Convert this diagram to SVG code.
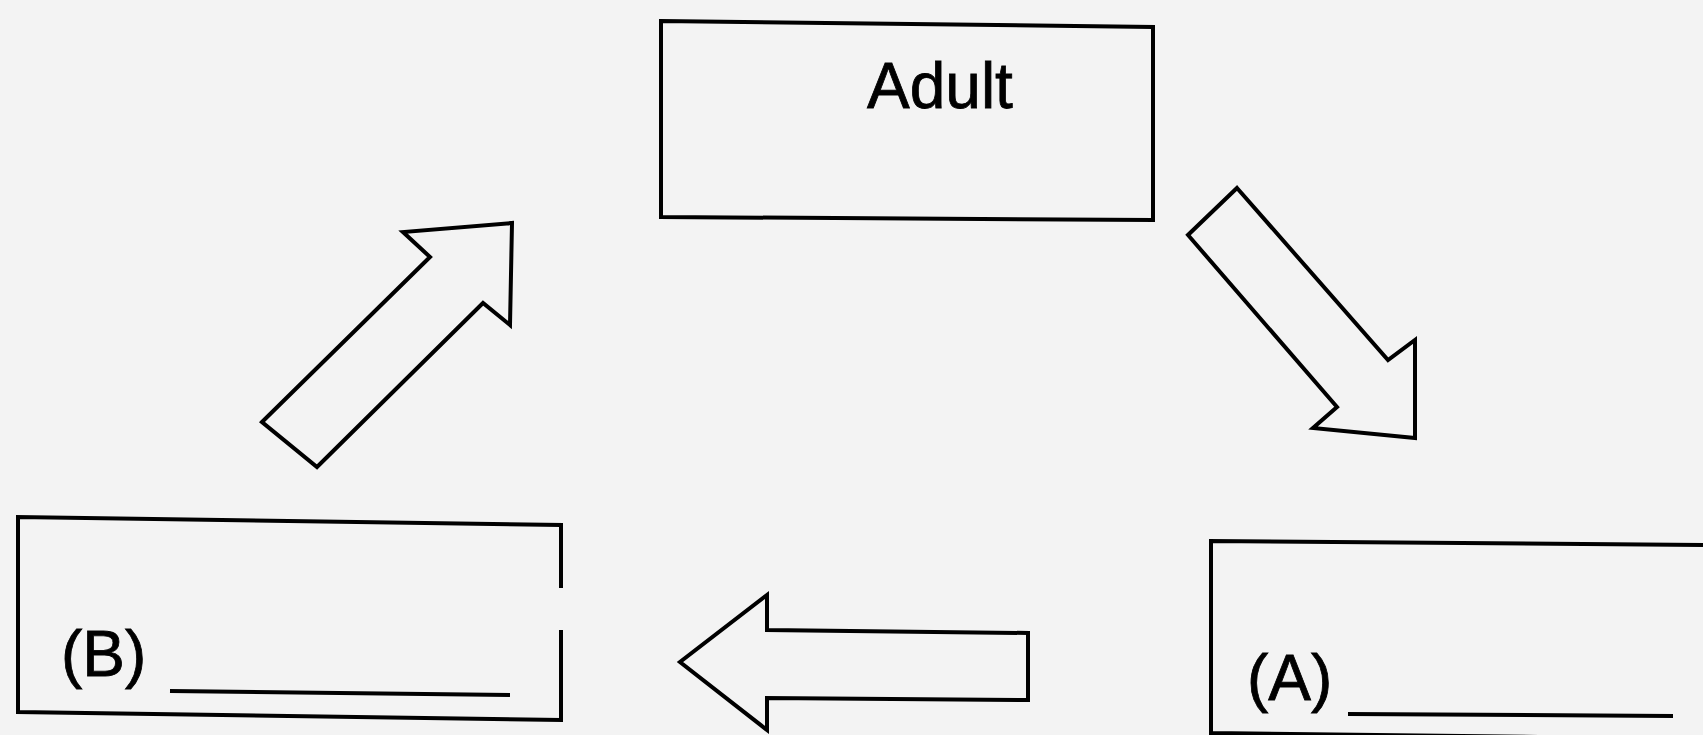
<svg xmlns="http://www.w3.org/2000/svg" width="1703" height="735" viewBox="0 0 1703 735">
<style>
.bg{fill:#f3f3f3}
.box{fill:none;stroke:#000;stroke-width:4;stroke-linejoin:miter}
.arrow{fill:none;stroke:#000;stroke-width:4;stroke-linejoin:miter}
.line{stroke:#000;stroke-width:4}
.lbl{font-family:"Liberation Sans",Arial,sans-serif;font-size:64px;fill:#000;stroke:#000;stroke-width:0.8}
</style>
<rect class="bg" x="0" y="0" width="1703" height="735"/>
<g id="node-adult">
<path class="box" d="M661,21 L1153,27 L1153,220 L661,217 Z"/>
<text class="lbl" x="867" y="108">Adult</text>
</g>
<g id="node-a">
<path class="box" d="M1703,545 L1211,541 L1211,733 L1703,739"/>
<text class="lbl" x="1247" y="700">(A)</text>
<line class="line" x1="1348" y1="714" x2="1673" y2="716"/>
</g>
<g id="node-b">
<path class="box" d="M561,588 L561,525 L18,517 L18,712 L561,720 L561,630"/>
<text class="lbl" x="61" y="676">(B)</text>
<line class="line" x1="170" y1="691" x2="510" y2="695"/>
</g>
<g id="connectors">
<path class="arrow" d="M1237,188 L1388,360 L1415,340 L1415,438 L1313,428 L1337,407 L1188,235 Z"/>
<path class="arrow" d="M1028,633 L1028,700 L767,698 L767,730 L680,662 L767,595 L767,630 Z"/>
<path class="arrow" d="M262,422 L430,257 L403,232 L512,223 L510,325 L483,303 L317,467 Z"/>
</g>
</svg>
